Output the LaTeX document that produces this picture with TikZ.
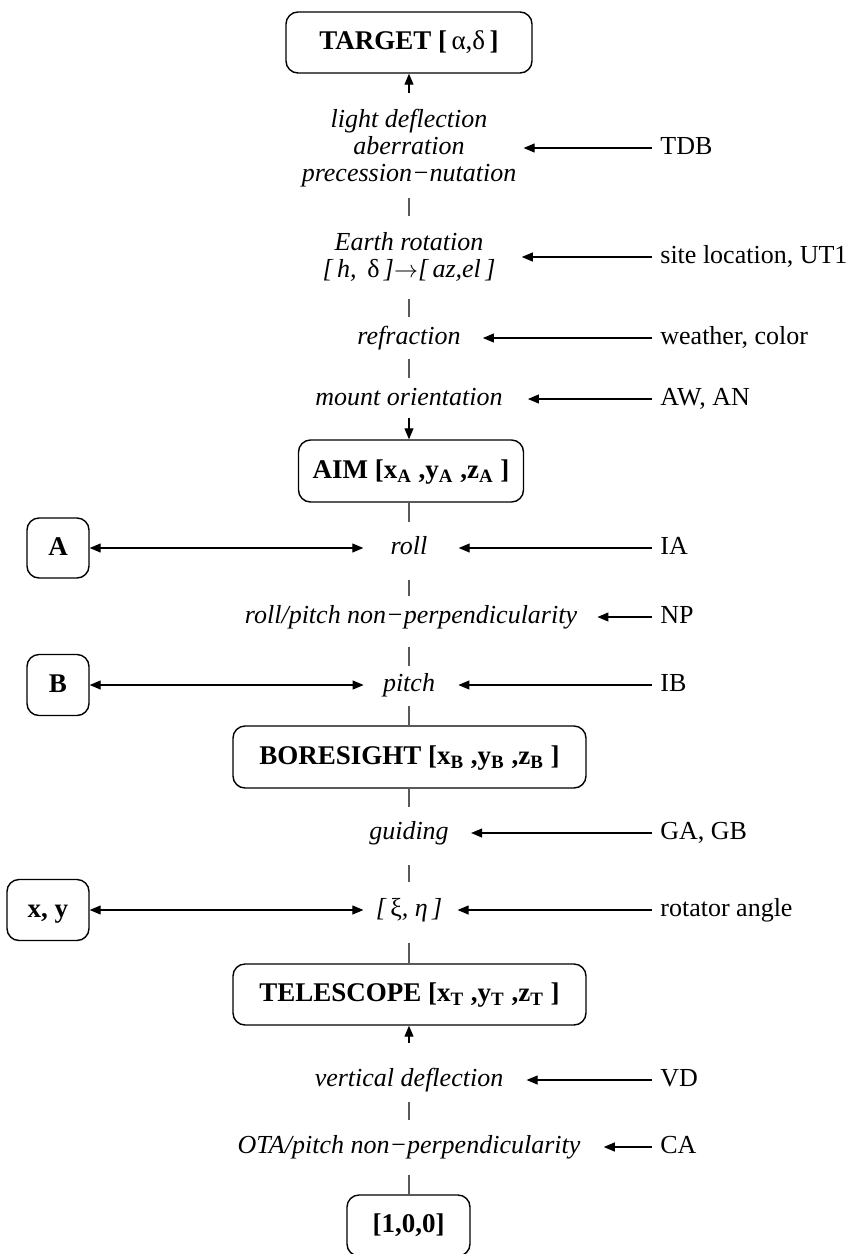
\documentclass[tikz,border=0pt]{standalone}
\usepackage{fontspec}
\setmainfont{Liberation Serif}
\usetikzlibrary{arrows.meta}

\tikzset{
  box/.style={draw, rounded corners=6pt, line width=0.7pt, inner sep=0pt,
    text height=9.5pt, text depth=2.5pt,
    font=\fontsize{13.5}{16}\selectfont\bfseries},
  proc/.style={font=\fontsize{13}{13.6}\selectfont\itshape, align=center, inner sep=0pt},
  oneline/.style={text height=9pt, text depth=3pt},
  src/.style={font=\fontsize{13}{14}\selectfont, anchor=west, inner xsep=4pt, inner ysep=0pt,
    text height=9pt, text depth=3pt},
  seg/.style={draw=black!65, line width=0.6pt},
  arr/.style={-{Triangle[length=5.5pt,width=4.5pt]}, line width=0.55pt},
  feed/.style={arr, shorten >=11pt},
  dbl/.style={{Triangle[length=5.5pt,width=4.5pt]}-{Triangle[length=5.5pt,width=4.5pt]}, line width=0.55pt},
}

\begin{document}
\begin{tikzpicture}[x=0.5pt, y=-0.5pt]
  \useasboundingbox (0,0) rectangle (856,1254);

  % frames
  \node[box, minimum width=123pt, minimum height=30.5pt] (target) at (409,42.5) {TARGET [\,{\mdseries α,δ}\,]};
  \node[box, minimum width=112.5pt, minimum height=31pt] (aim) at (411,471) {AIM [x\textsubscript{A} ,y\textsubscript{A} ,z\textsubscript{A} ]};
  \node[box, minimum width=176.5pt, minimum height=31pt] (bore) at (409.5,757) {BORESIGHT [x\textsubscript{B} ,y\textsubscript{B} ,z\textsubscript{B} ]};
  \node[box, minimum width=176.5pt, minimum height=30.5pt] (tele) at (409.5,994.5) {TELESCOPE [x\textsubscript{T} ,y\textsubscript{T} ,z\textsubscript{T} ]};
  \node[box, minimum width=61.5pt, minimum height=30.5pt] (unit) at (408.5,1225.5) {[1,0,0]};
  \node[box, minimum width=31pt, minimum height=30pt] (boxA) at (58,548) {A};
  \node[box, minimum width=31pt, minimum height=30.5pt] (boxB) at (58,685) {B};
  \node[box, minimum width=41pt, minimum height=30.5pt] (boxxy) at (48,910) {x, y};

  % corrections
  \node[proc] (light) at (409,148) {light deflection\\aberration\\precession−nutation};
  \node[proc] (earth) at (409,257) {Earth rotation\\{[}\,h,\, {\upshape δ}\,]$\rightarrow$[\,az,el\,]};
  \node[proc, oneline] (refr) at (409,338) {refraction};
  \node[proc, oneline] (mount) at (409,399) {mount orientation};
  \node[proc, oneline] (roll) at (409,548) {roll};
  \node[proc, oneline] (rpnp) at (411,617) {roll/pitch non−perpendicularity};
  \node[proc, oneline] (pitch) at (409,685) {pitch};
  \node[proc, oneline] (guide) at (409,833) {guiding};
  \node[proc, oneline] (xieta) at (409,910) {[\,{\upshape ξ}, η\,]};
  \node[proc, oneline] (vdefl) at (409,1080) {vertical deflection};
  \node[proc, oneline] (otanp) at (409,1147) {OTA/pitch non−perpendicularity};

  % inputs
  \node[src] (tdb) at (652,148) {TDB};
  \node[src] (site) at (652,257) {site location, UT1};
  \node[src] (wthr) at (652,338) {weather, color};
  \node[src] (awan) at (652,399) {AW, AN};
  \node[src] (ia) at (652,548) {IA};
  \node[src] (np) at (652,617) {NP};
  \node[src] (ib) at (652,685) {IB};
  \node[src] (gagb) at (652,833) {GA, GB};
  \node[src] (rot) at (652,910) {rotator angle};
  \node[src] (vd) at (652,1080) {VD};
  \node[src] (ca) at (652,1147) {CA};

  % chain
  \draw[arr, shorten <=7.75pt] (light) -- (target);
  \draw[seg, shorten <=5pt, shorten >=7.75pt] (light) -- (earth);
  \draw[seg, shorten <=8.5pt, shorten >=4.5pt] (earth) -- (refr);
  \draw[seg, shorten <=4.5pt, shorten >=4.5pt] (refr) -- (mount);
  \draw[arr, shorten <=3.5pt] (mount) -- (mount |- aim.north);
  \draw[seg, shorten >=7pt] (aim.south -| roll) -- (roll);
  \draw[seg, shorten <=10pt, shorten >=4.5pt] (roll) -- (roll |- rpnp.north);
  \draw[seg, shorten <=9pt, shorten >=3.5pt] (pitch |- rpnp.south) -- (pitch);
  \draw[seg, shorten <=4.5pt] (pitch) -- (bore.north -| pitch);
  \draw[seg, shorten >=7pt] (bore.south -| guide) -- (guide);
  \draw[seg, shorten <=10pt, shorten >=8pt] (guide) -- (xieta);
  \draw[seg, shorten <=10.5pt] (xieta) -- (tele.north -| xieta);
  \draw[arr, shorten <=12.5pt] (vdefl) -- (tele.south -| vdefl);
  \draw[seg, shorten <=5pt, shorten >=7.5pt] (vdefl) -- (otanp);
  \draw[seg, shorten <=8pt] (otanp) -- (unit.north -| otanp);

  % inputs into the chain
  \draw[feed, shorten >=3.5pt] (tdb) -- (light);
  \draw[feed, shorten >=13pt] (site) -- (earth);
  \draw[feed] (wthr) -- (refr);
  \draw[feed, shorten >=12.5pt] (awan) -- (mount);
  \draw[feed, shorten >=15.5pt] (ia) -- (roll);
  \draw[feed, shorten >=10pt] (np) -- (rpnp);
  \draw[feed, shorten >=11.5pt] (ib) -- (pitch);
  \draw[feed] (gagb) -- (guide);
  \draw[feed, shorten >=7.5pt] (rot) -- (xieta);
  \draw[feed, shorten >=11.5pt] (vd) -- (vdefl);
  \draw[feed, shorten >=11.5pt] (ca) -- (otanp);

  % outputs
  \draw[dbl, shorten >=13.5pt] (boxA) -- (roll);
  \draw[dbl, shorten >=9.5pt] (boxB) -- (pitch);
  \draw[dbl, shorten >=6pt] (boxxy) -- (xieta);
\end{tikzpicture}
\end{document}
